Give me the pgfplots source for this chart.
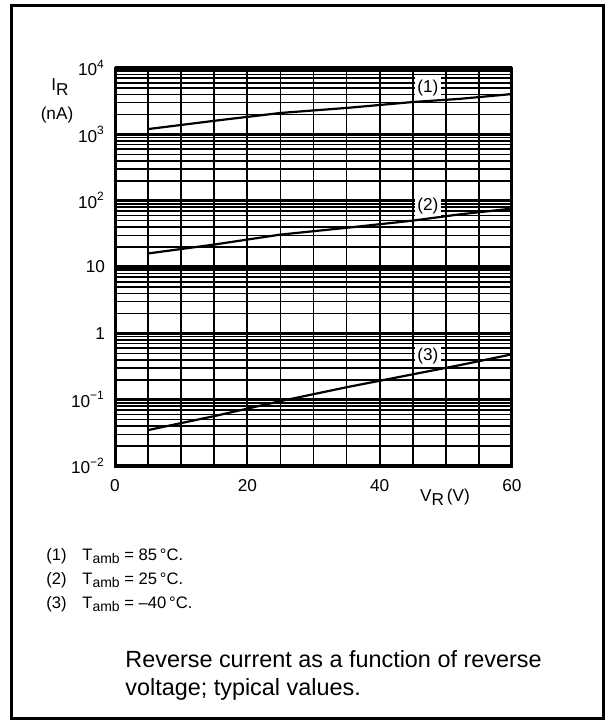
\documentclass[border=0pt]{standalone}
\usepackage{fontspec}
\setmainfont{Liberation Sans}
\usepackage{pgfplots}
\pgfplotsset{compat=1.18}
\newcommand{\tickfont}{\fontsize{8.6}{10}\selectfont}
\newcommand{\legfont}{\fontsize{8.3}{10}\selectfont}
\newcommand{\capfont}{\fontsize{11.7}{14}\selectfont}
\begin{document}
\begin{tikzpicture}
% page size and outer frame
\path (0pt,0pt) rectangle (303.5pt,-361pt);
\draw[line width=1.5pt] (5.5pt,-2.75pt) rectangle (301.5pt,-359pt);
\begin{axis}[
    at={(57.5pt,-233pt)}, anchor=south west,
    scale only axis, width=198.5pt, height=199pt,
    ymode=log,
    xmin=0, xmax=60, ymin=1e-2, ymax=1e4,
    xtick={0,20,40,60},
    minor x tick num=3,
    ytick={1e-2,1e-1,1,10,100,1e3,1e4},
    yticklabels={10\textsuperscript{−2},10\textsuperscript{−1},1,10,10\textsuperscript{2},10\textsuperscript{3},10\textsuperscript{4}},
    /pgf/number format/assume math mode=true,
    tick style={draw=none},
    tick label style={font=\tickfont},
    xticklabel style={yshift=-3pt},
    yticklabel style={xshift=-1.5pt},
    grid=both,
    major x grid style={black,line width=0.9pt},
    minor x grid style={black,line width=0.9pt},
    major y grid style={black,line width=1.8pt},
    minor y grid style={black,line width=0.8pt},
    axis line style={line width=1.5pt},
]
\addplot[black, line width=1.1pt] coordinates {
(5,1200) (15,1600) (25,2100) (35,2500) (45,3070) (52,3420) (60,4050)};
\addplot[black, line width=1.1pt] coordinates {
(5,16) (15,21.8) (25,30.8) (35,39) (45,50) (52,62) (60,76)};
\addplot[black, line width=1.1pt] coordinates {
(5,0.0348) (15,0.0565) (25,0.095) (35,0.154) (45,0.241) (52,0.33) (60,0.483)};
\node[fill=white, inner sep=1.3pt, font=\tickfont] at (axis cs:47.3,5000) {(1)};
\node[fill=white, inner sep=1.3pt, font=\tickfont] at (axis cs:47.3,84) {(2)};
\node[fill=white, inner sep=1.3pt, font=\tickfont] at (axis cs:47.3,0.45) {(3)};
\end{axis}
% axis labels
\node[font=\tickfont] at (30pt,-43.5pt) {I\raisebox{-0.5ex}{R}};
\node[font=\tickfont] at (28.5pt,-57.5pt) {(nA)};
\node[font=\tickfont] at (222.5pt,-248.5pt) {V\raisebox{-0.45ex}{R}\,(V)};
% conditions
\node[anchor=base west, font=\legfont, inner sep=0pt] at (23pt,-280pt)
  {\makebox[18pt][l]{(1)}T\raisebox{-0.35ex}{\scriptsize amb} = 85\,°C.};
\node[anchor=base west, font=\legfont, inner sep=0pt] at (23pt,-292pt)
  {\makebox[18pt][l]{(2)}T\raisebox{-0.35ex}{\scriptsize amb} = 25\,°C.};
\node[anchor=base west, font=\legfont, inner sep=0pt] at (23pt,-304pt)
  {\makebox[18pt][l]{(3)}T\raisebox{-0.35ex}{\scriptsize amb} = –40\,°C.};
% caption
\node[anchor=base west, font=\capfont, inner sep=0pt] at (62.5pt,-333.5pt)
  {Reverse current as a function of reverse};
\node[anchor=base west, font=\capfont, inner sep=0pt] at (62.5pt,-347.5pt)
  {voltage; typical values.};
\end{tikzpicture}
\end{document}
